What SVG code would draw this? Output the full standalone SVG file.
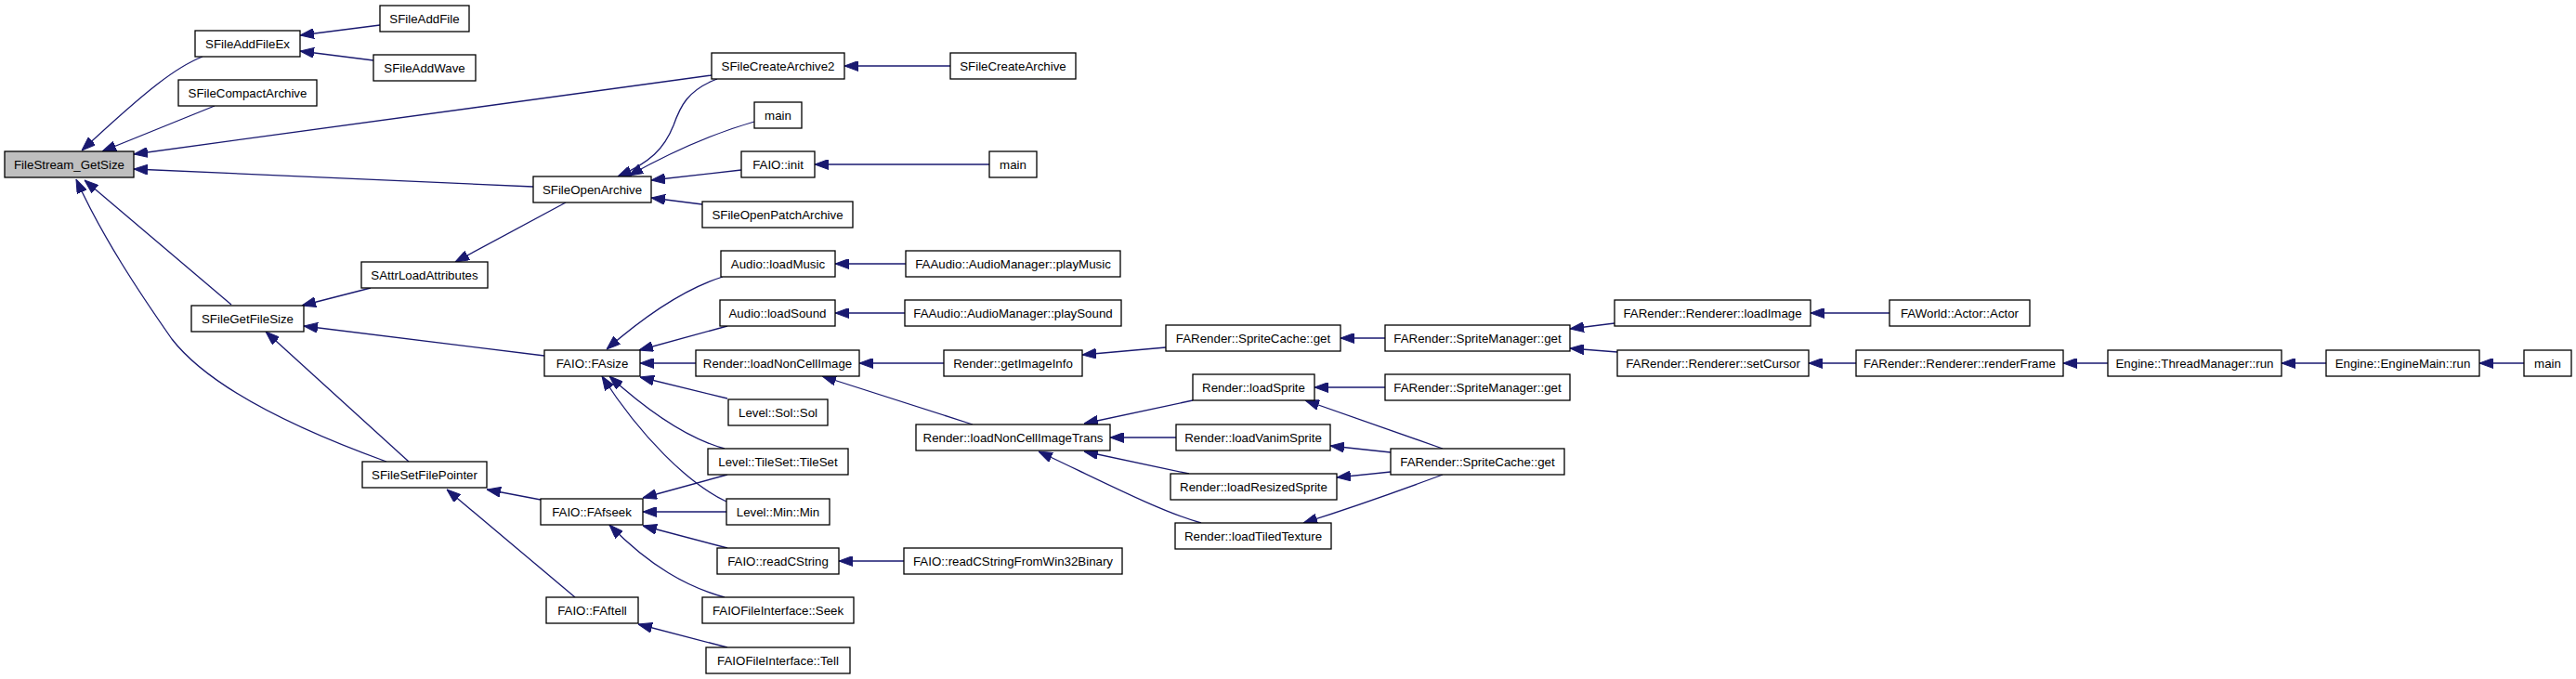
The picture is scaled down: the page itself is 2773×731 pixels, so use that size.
<svg xmlns="http://www.w3.org/2000/svg" width="2773" height="731" viewBox="0 0 2773 731">
<style>
.n rect{fill:#fff;stroke:#000;stroke-width:1.3}
.n.root rect{fill:#bfbfbf}
.n text{font-family:"Liberation Sans",Arial,sans-serif;font-size:13.3px;text-anchor:middle;fill:#000}
.e path{fill:none;stroke:#191970;stroke-width:1.3;marker-end:url(#ah)}
</style>
<defs>
<marker id="ah" viewBox="0 0 15 11" refX="15" refY="5.5" markerWidth="15" markerHeight="11" markerUnits="userSpaceOnUse" orient="auto"><path d="M0,0 L15,5.5 L0,11 z" fill="#191970" stroke="#191970" stroke-width="1"/></marker>
</defs>
<rect width="2773" height="731" fill="#fff"/>
<g id="connectors" class="e">
<path d="M218,61 C190,72 160,95 88,162"/>
<path d="M231,114 L110,163"/>
<path d="M766,81 L144,166"/>
<path d="M574,201 L144,182"/>
<path d="M249,328 L91,194"/>
<path d="M416,497 C300,455 220,410 185,365 C150,315 110,255 82,193"/>
<path d="M409,27 L323,38"/>
<path d="M402,65 L323,55"/>
<path d="M1023,71 L909,71"/>
<path d="M772,85 C740,97 732,115 725,135 C715,160 700,175 665,190"/>
<path d="M812,131 C770,143 720,165 677,189"/>
<path d="M798,183 L701,194"/>
<path d="M756,220 L701,213"/>
<path d="M1065,177 L877,177"/>
<path d="M609,218 L490,282"/>
<path d="M399,310 L325,329"/>
<path d="M586,383 L327,351"/>
<path d="M440,497 L286,357"/>
<path d="M778,298 C740,310 700,335 653,376"/>
<path d="M783,351 L688,377"/>
<path d="M749,391 L689,391"/>
<path d="M783,429 L689,406"/>
<path d="M780,483 C740,472 700,445 656,405"/>
<path d="M782,540 C740,520 690,470 648,405"/>
<path d="M783,511 L692,536"/>
<path d="M782,551 L692,551"/>
<path d="M783,590 L692,566"/>
<path d="M780,643 C740,632 700,610 656,565"/>
<path d="M582,538 L524,527"/>
<path d="M619,643 L481,527"/>
<path d="M783,697 L687,672"/>
<path d="M973,604 L903,604"/>
<path d="M975,284 L899,284"/>
<path d="M974,337 L899,337"/>
<path d="M1016,391 L925,391"/>
<path d="M1047,457 L885,405"/>
<path d="M1255,374 L1165,382"/>
<path d="M1284,431 L1167,456"/>
<path d="M1266,471 L1195,471"/>
<path d="M1280,510 L1167,486"/>
<path d="M1293,563 C1250,551 1190,520 1118,486"/>
<path d="M1491,364 L1443,364"/>
<path d="M1491,417 L1415,417"/>
<path d="M1553,483 L1405,431"/>
<path d="M1497,487 L1432,480"/>
<path d="M1497,508 L1439,514"/>
<path d="M1553,511 C1510,527 1460,545 1403,563"/>
<path d="M1738,348 L1690,354"/>
<path d="M1741,379 L1690,375"/>
<path d="M2034,337 L1949,337"/>
<path d="M1998,391 L1947,391"/>
<path d="M2269,391 L2221,391"/>
<path d="M2504,391 L2456,391"/>
<path d="M2717,391 L2669,391"/>
</g>
<g id="n0" class="n root"><rect x="5" y="163" width="139" height="28"/><text x="74.5" y="182">FileStream_GetSize</text></g>
<g id="n1" class="n"><rect x="210" y="33" width="113" height="28"/><text x="266.5" y="52">SFileAddFileEx</text></g>
<g id="n2" class="n"><rect x="192" y="86" width="149" height="28"/><text x="266.5" y="105">SFileCompactArchive</text></g>
<g id="n3" class="n"><rect x="389" y="282" width="136" height="28"/><text x="457" y="301">SAttrLoadAttributes</text></g>
<g id="n4" class="n"><rect x="206" y="329" width="121" height="28"/><text x="266.5" y="348">SFileGetFileSize</text></g>
<g id="n5" class="n"><rect x="409" y="6" width="96" height="28"/><text x="457" y="25">SFileAddFile</text></g>
<g id="n6" class="n"><rect x="402" y="59" width="110" height="28"/><text x="457" y="78">SFileAddWave</text></g>
<g id="n7" class="n"><rect x="390" y="497" width="134" height="28"/><text x="457" y="516">SFileSetFilePointer</text></g>
<g id="n8" class="n"><rect x="766" y="57" width="143" height="28"/><text x="837.5" y="76">SFileCreateArchive2</text></g>
<g id="n9" class="n"><rect x="812" y="110" width="51" height="28"/><text x="837.5" y="129">main</text></g>
<g id="n10" class="n"><rect x="798" y="163" width="79" height="28"/><text x="837.5" y="182">FAIO::init</text></g>
<g id="n11" class="n"><rect x="574" y="190" width="127" height="28"/><text x="637.5" y="209">SFileOpenArchive</text></g>
<g id="n12" class="n"><rect x="756" y="217" width="162" height="28"/><text x="837" y="236">SFileOpenPatchArchive</text></g>
<g id="n13" class="n"><rect x="776" y="270" width="123" height="28"/><text x="837.5" y="289">Audio::loadMusic</text></g>
<g id="n14" class="n"><rect x="775" y="323" width="124" height="28"/><text x="837" y="342">Audio::loadSound</text></g>
<g id="n15" class="n"><rect x="586" y="377" width="103" height="28"/><text x="637.5" y="396">FAIO::FAsize</text></g>
<g id="n16" class="n"><rect x="749" y="377" width="176" height="28"/><text x="837" y="396">Render::loadNonCellImage</text></g>
<g id="n17" class="n"><rect x="784" y="430" width="107" height="28"/><text x="837.5" y="449">Level::Sol::Sol</text></g>
<g id="n18" class="n"><rect x="762" y="483" width="151" height="28"/><text x="837.5" y="502">Level::TileSet::TileSet</text></g>
<g id="n19" class="n"><rect x="582" y="537" width="110" height="28"/><text x="637" y="556">FAIO::FAfseek</text></g>
<g id="n20" class="n"><rect x="782" y="537" width="111" height="28"/><text x="837.5" y="556">Level::Min::Min</text></g>
<g id="n21" class="n"><rect x="772" y="590" width="131" height="28"/><text x="837.5" y="609">FAIO::readCString</text></g>
<g id="n22" class="n"><rect x="756" y="643" width="163" height="28"/><text x="837.5" y="662">FAIOFileInterface::Seek</text></g>
<g id="n23" class="n"><rect x="588" y="643" width="99" height="28"/><text x="637.5" y="662">FAIO::FAftell</text></g>
<g id="n24" class="n"><rect x="760" y="697" width="155" height="28"/><text x="837.5" y="716">FAIOFileInterface::Tell</text></g>
<g id="n25" class="n"><rect x="1023" y="57" width="135" height="28"/><text x="1090.5" y="76">SFileCreateArchive</text></g>
<g id="n26" class="n"><rect x="1065" y="163" width="51" height="28"/><text x="1090.5" y="182">main</text></g>
<g id="n27" class="n"><rect x="975" y="270" width="231" height="28"/><text x="1090.5" y="289">FAAudio::AudioManager::playMusic</text></g>
<g id="n28" class="n"><rect x="974" y="323" width="233" height="28"/><text x="1090.5" y="342">FAAudio::AudioManager::playSound</text></g>
<g id="n29" class="n"><rect x="1255" y="350" width="188" height="28"/><text x="1349" y="369">FARender::SpriteCache::get</text></g>
<g id="n30" class="n"><rect x="1016" y="377" width="149" height="28"/><text x="1090.5" y="396">Render::getImageInfo</text></g>
<g id="n31" class="n"><rect x="986" y="457" width="209" height="28"/><text x="1090.5" y="476">Render::loadNonCellImageTrans</text></g>
<g id="n32" class="n"><rect x="1284" y="403" width="131" height="28"/><text x="1349.5" y="422">Render::loadSprite</text></g>
<g id="n33" class="n"><rect x="1266" y="457" width="166" height="28"/><text x="1349" y="476">Render::loadVanimSprite</text></g>
<g id="n34" class="n"><rect x="1260" y="510" width="179" height="28"/><text x="1349.5" y="529">Render::loadResizedSprite</text></g>
<g id="n35" class="n"><rect x="1265" y="563" width="168" height="28"/><text x="1349" y="582">Render::loadTiledTexture</text></g>
<g id="n36" class="n"><rect x="973" y="590" width="235" height="28"/><text x="1090.5" y="609">FAIO::readCStringFromWin32Binary</text></g>
<g id="n37" class="n"><rect x="1491" y="350" width="199" height="28"/><text x="1590.5" y="369">FARender::SpriteManager::get</text></g>
<g id="n38" class="n"><rect x="1491" y="403" width="199" height="28"/><text x="1590.5" y="422">FARender::SpriteManager::get</text></g>
<g id="n39" class="n"><rect x="1497" y="483" width="187" height="28"/><text x="1590.5" y="502">FARender::SpriteCache::get</text></g>
<g id="n40" class="n"><rect x="1738" y="323" width="211" height="28"/><text x="1843.5" y="342">FARender::Renderer::loadImage</text></g>
<g id="n41" class="n"><rect x="1741" y="377" width="206" height="28"/><text x="1844" y="396">FARender::Renderer::setCursor</text></g>
<g id="n42" class="n"><rect x="2034" y="323" width="151" height="28"/><text x="2109.5" y="342">FAWorld::Actor::Actor</text></g>
<g id="n43" class="n"><rect x="1998" y="377" width="223" height="28"/><text x="2109.5" y="396">FARender::Renderer::renderFrame</text></g>
<g id="n44" class="n"><rect x="2269" y="377" width="187" height="28"/><text x="2362.5" y="396">Engine::ThreadManager::run</text></g>
<g id="n45" class="n"><rect x="2504" y="377" width="165" height="28"/><text x="2586.5" y="396">Engine::EngineMain::run</text></g>
<g id="n46" class="n"><rect x="2717" y="377" width="51" height="28"/><text x="2742.5" y="396">main</text></g>
</svg>
